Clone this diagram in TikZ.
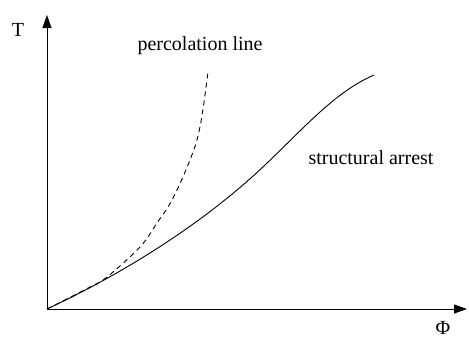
\documentclass[tikz,border=0pt]{standalone}
\usepackage{fontspec}
\setmainfont{Liberation Serif}
\usetikzlibrary{arrows.meta}
\begin{document}
\begin{tikzpicture}[x=1pt,y=-1pt,
  axis/.style={line width=1pt,-{Triangle[length=13pt,width=9pt]}},
  curve/.style={line width=0.9pt},
  lbl/.style={font=\fontsize{20}{22}\selectfont,inner sep=0pt}]
\useasboundingbox (0,0) rectangle (469,338);
\coordinate (O) at (47,309);
\coordinate (ytop) at (47,15);
\coordinate (xend) at (467,309);
\coordinate (infl) at (265,165);
\coordinate (sEnd) at (374,75);
\coordinate (dEnd) at (208,72);
\draw[axis] (O) -- (ytop);
\draw[axis] (O) -- (xend);
\node[lbl] (T) at (18,30) {T};
\node[lbl] (Phi) at (443,328) {Φ};
\node[lbl] (perc) at (200,46) {percolation line};
\node[lbl] (arrest) at (371,158) {structural arrest};
\draw[curve,dash pattern=on 5pt off 4pt] plot[smooth,tension=0.6] coordinates
  {(47,309) (90,287) (107,277) (140,247) (157,223) (172,200) (190,160) (200,127) (208,72)};
\draw[curve] (O) .. controls (120,275) and (202,225) .. (infl)
  .. controls (305,127) and (335,92) .. (sEnd);
\end{tikzpicture}
\end{document}
